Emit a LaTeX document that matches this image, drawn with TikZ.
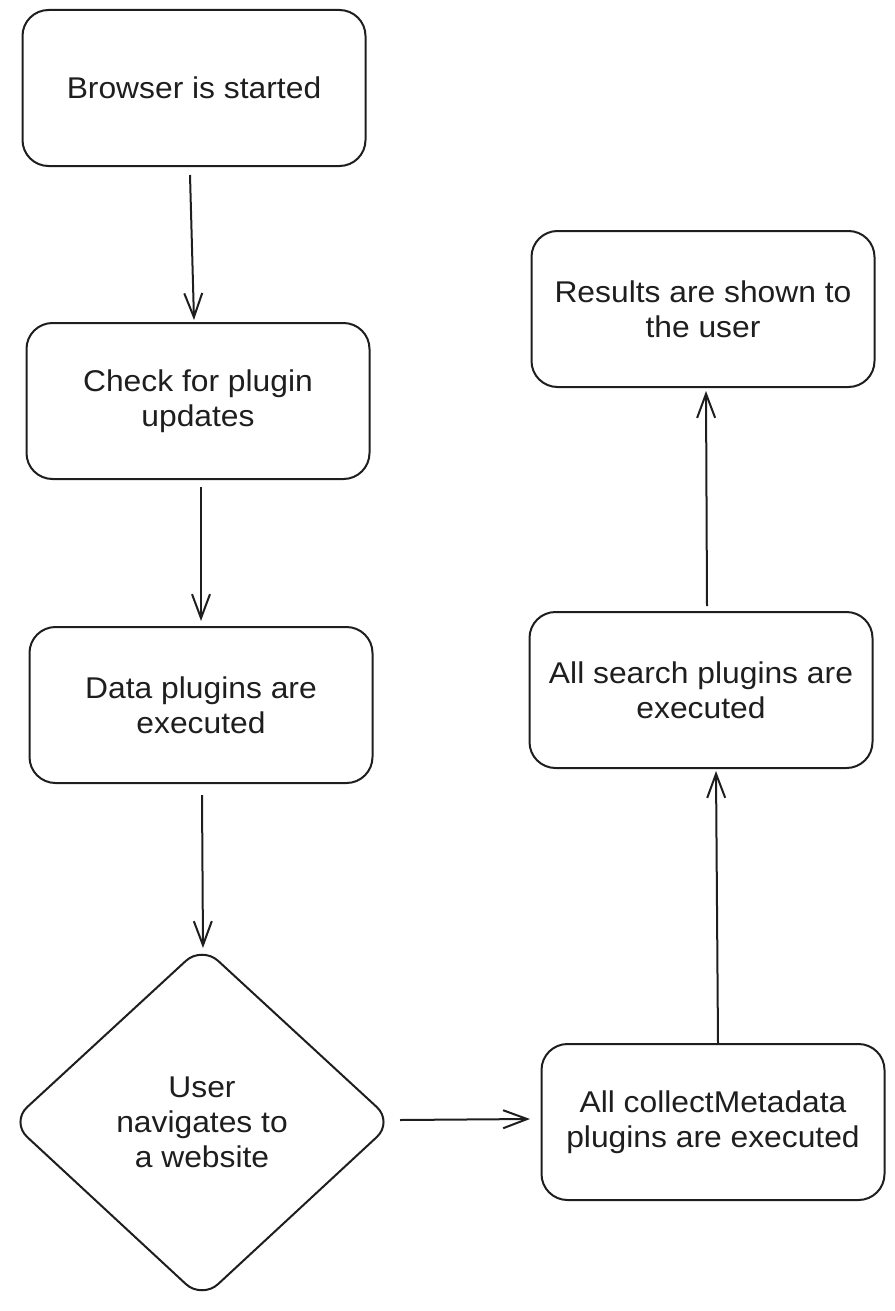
\documentclass[tikz,border=0pt]{standalone}
\usepackage{fontspec}
\setmainfont{Liberation Sans}[FakeStretch=1.06]
\usetikzlibrary{arrows.meta,shapes.geometric}
\definecolor{ink}{HTML}{1E1E1E}
\tikzset{
  box/.style={draw=ink, line width=2pt, rounded corners=26pt, minimum width=343pt, minimum height=156pt, align=center, text=ink, font=\fontsize{30}{35}\selectfont, inner sep=0pt},
  conn/.style={draw=ink, line width=2pt, -{Straight Barb[length=24pt,width=18pt,line width=2pt]}}
}
\begin{document}
\begin{tikzpicture}[x=1pt,y=-1pt]
\useasboundingbox (0,0) rectangle (894,1311);
\node[box] (b1) at (194,88) {Browser is started};
\node[box] (b2) at (198,401) {Check for plugin\\updates};
\node[box] (b3) at (201,705) {Data plugins are\\executed};
\node[box] (b5) at (713,1122) {All collectMetadata\\plugins are executed};
\node[box] (b6) at (701,690) {All search plugins are\\executed};
\node[box] (b7) at (703,309) {Results are shown to\\the user};
% diamond
\coordinate (dc) at (202,1122);
\draw[ink, line width=2pt, rounded corners=22pt] (202,946) -- (393,1122) -- (202,1299) -- (11,1122) -- cycle;
\node[align=center, text=ink, font=\fontsize{30}{35}\selectfont, inner sep=0pt] (d) at (dc) {User\\navigates to\\a website};
\coordinate (d1) at (190,175);
\coordinate (d2) at (194,320);
\coordinate (e1) at (201,487);
\coordinate (e2) at (201,621);
\coordinate (f1) at (202,795);
\coordinate (f2) at (203,948);
\coordinate (g1) at (400,1120);
\coordinate (g2) at (530,1119);
\coordinate (h1) at (718,1043);
\coordinate (h2) at (716,771);
\coordinate (i1) at (707,606);
\coordinate (i2) at (706,391);
\draw[conn] (d1) -- (d2);
\draw[conn] (e1) -- (e2);
\draw[conn] (f1) -- (f2);
\draw[conn] (g1) -- (g2);
\draw[conn] (h1) -- (h2);
\draw[conn] (i1) -- (i2);
\end{tikzpicture}
\end{document}
